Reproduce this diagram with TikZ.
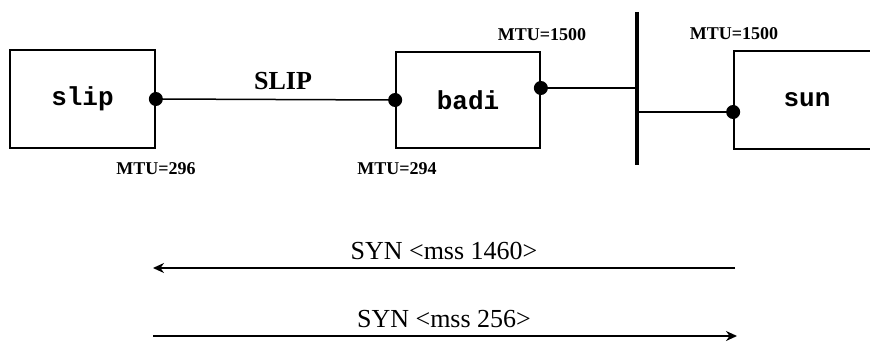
\documentclass[tikz,border=0pt]{standalone}
\usepackage{fontspec}
\setmainfont{Liberation Serif}
\newfontfamily\boxfont{Liberation Mono}
\usetikzlibrary{arrows.meta}
\begin{document}
\begin{tikzpicture}[x=1pt,y=-1pt,
  hostbox/.style={draw,line width=1.7pt,inner sep=0pt,font=\boxfont\bfseries\fontsize{26}{26}\selectfont},
  dotmark/.style={fill,circle,inner sep=0pt,minimum size=14pt},
  link/.style={line width=1.5pt},
  mtu/.style={font=\bfseries\fontsize{18}{18}\selectfont,inner sep=0pt},
  msg/.style={font=\fontsize{26}{26}\selectfont,inner sep=0pt},
  seg/.style={line width=2pt}]
\useasboundingbox (0,0) rectangle (870,342);
\clip (0,0) rectangle (870,342);
% hosts
\node[hostbox,minimum width=145pt,minimum height=98pt] (slip) at (82.5,99) {slip};
\node[hostbox,minimum width=144pt,minimum height=96pt] (badi) at (468,100) {badi};
\node[hostbox,minimum width=146pt,minimum height=98pt] (sun) at (807,100) {sun};
% ethernet bar
\coordinate (bartop) at (637,12);
\coordinate (barbot) at (637,165);
\draw[line width=4.5pt] (bartop) -- (barbot);
% interfaces
\coordinate (sR) at (slip.east);
\coordinate (bL) at (badi.west);
\coordinate (bR) at ([yshift=12pt]badi.east);
\coordinate (sL) at ([yshift=-12pt]sun.west);
\draw[link] (sR) -- (bL);
\node[font=\bfseries\fontsize{26}{26}\selectfont,inner sep=0pt] (sliplbl) at (283,81) {SLIP};
\draw[link] (bR) -- (bR -| bartop);
\draw[line width=2.5pt] (sL -| bartop) -- (sL);
\node[dotmark] (d1) at (sR) {};
\node[dotmark] (d2) at (bL) {};
\node[dotmark] (d3) at (bR) {};
\node[dotmark] (d4) at (sL) {};
% MTU labels
\node[mtu] (m1) at (156,169) {MTU=296};
\node[mtu] (m2) at (397,169) {MTU=294};
\node[mtu] (m3) at (542,35) {MTU=1500};
\node[mtu] (m4) at (734,34) {MTU=1500};
% segments
\coordinate (a1l) at (153,268);
\coordinate (a1r) at (735,268);
\coordinate (a2l) at (153,336);
\coordinate (a2r) at (737,336);
\draw[seg,-{Stealth[length=11pt,width=10pt]}] (a1r) -- (a1l);
\node[msg] (t1) at (444,251) {SYN <mss 1460>};
\draw[seg,-{Stealth[length=11pt,width=10pt]}] (a2l) -- (a2r);
\node[msg] (t2) at (444,319) {SYN <mss 256>};
\end{tikzpicture}
\end{document}
